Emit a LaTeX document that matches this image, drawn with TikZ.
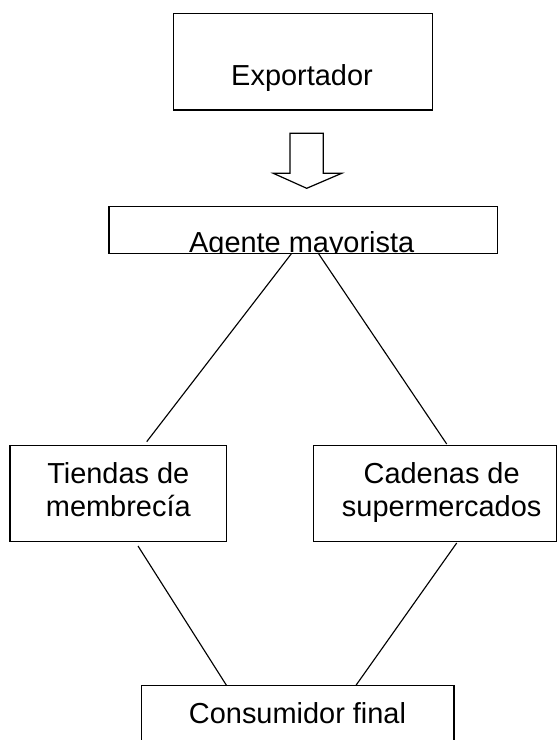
\documentclass[tikz,border=0pt]{standalone}
\usepackage{fontspec}
\setmainfont{Liberation Sans}
\usetikzlibrary{calc}
\begin{document}
\begin{tikzpicture}[x=0.75pt,y=-0.75pt,
  box/.style={draw,line width=1.1pt,rectangle,inner sep=0pt,outer sep=0pt},
  lbl/.style={inner sep=0pt,anchor=base,font=\fontsize{21.7}{24.5}\selectfont},
  lbl2/.style={lbl,align=center},
  conn/.style={line width=0.85pt},
  hollow/.style={draw,line width=0.9pt,fill=white,line join=miter}]
\useasboundingbox (0,0) rectangle (560,740);
\clip (0,0) rectangle (560,740);
% boxes
\node[box,minimum width=194.55pt,minimum height=72.5pt] (exp) at (303,61.7) {};
\node[lbl] (expt) at (302,85) {Exportador};
\node[box,minimum width=291.2pt,minimum height=34.95pt] (ag) at (303.2,230) {};
\begin{scope}
  \clip (ag.south west) rectangle (ag.north east);
  \node[lbl] (agt) at (301.7,252.7) {Agente mayorista};
\end{scope}
\node[box,minimum width=291.2pt,minimum height=34.95pt] at (ag) {};
\node[box,minimum width=162.5pt,minimum height=72pt] (ti) at (118.3,493.7) {};
\node[lbl2] (tit) at (118.3,516) {Tiendas de\\membrecía};
\node[box,minimum width=182.55pt,minimum height=72pt] (ca) at (435,493.7) {};
\node[lbl2] (cat) at (441.7,516) {Cadenas de\\supermercados};
\node[box,minimum width=234.2pt,minimum height=75pt] (co) at (297.8,735.7) {};
\node[lbl] (cot) at (297.5,723.3) {Consumidor final};
% hollow arrow
\coordinate (ar) at (306.7,133.3);
\draw[hollow] (ar) ++(-16.7,0) -- ++(33.3,0) -- ++(0,40) -- ++(18.4,0)
  -- (306.7,188.3) -- (273.3,173.3) -- (290,173.3) -- cycle;
% connectors
\draw[conn] ($(ag.south)+(-11.5,0)$) -- ($(ti.north)+(28.4,-4)$);
\draw[conn] ($(ag.south)+(15.1,0)$) -- ($(ca.north)+(11.7,-1.7)$);
\draw[conn] ($(ti.south)+(19.7,4.3)$) -- ($(co.north)+(-71.1,0)$);
\draw[conn] ($(ca.south)+(21.7,1.3)$) -- ($(co.north)+(57.9,0)$);
\end{tikzpicture}
\end{document}
